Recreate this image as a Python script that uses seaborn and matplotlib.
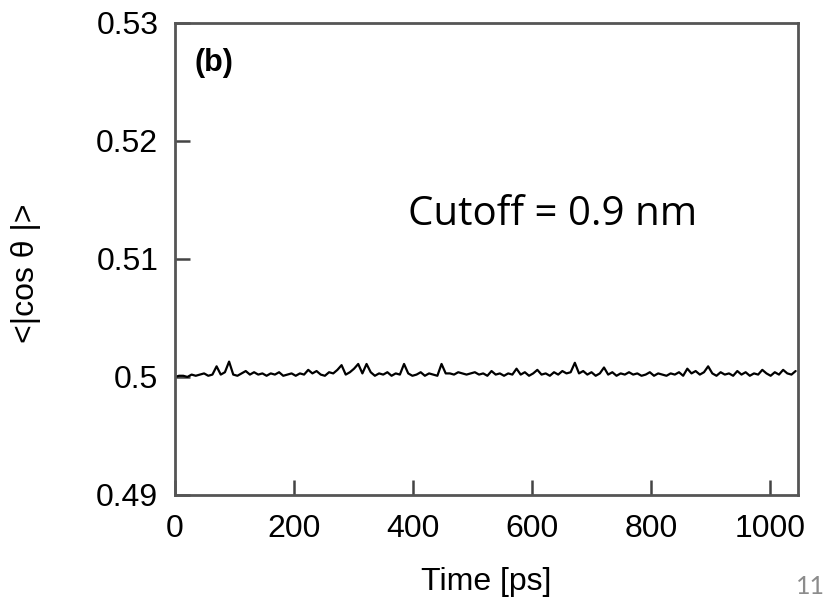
import numpy as np
import pandas as pd
import matplotlib
matplotlib.use("Agg")
import matplotlib.pyplot as plt
import seaborn as sns

# <|cos theta|>, one sample every 7 ps
cos_theta = [
    0.5000, 0.5001, 0.5001, 0.5000, 0.5002, 0.5001, 0.5002, 0.5003, 0.5001, 0.5002,
    0.5009, 0.5002, 0.5004, 0.5013, 0.5002, 0.5001, 0.5003, 0.5005, 0.5002, 0.5004,
    0.5002, 0.5003, 0.5001, 0.5003, 0.5002, 0.5004, 0.5001, 0.5002, 0.5003, 0.5001,
    0.5003, 0.5002, 0.5006, 0.5003, 0.5005, 0.5002, 0.5001, 0.5004, 0.5003, 0.5006,
    0.5010, 0.5002, 0.5004, 0.5007, 0.5011, 0.5003, 0.5011, 0.5004, 0.5001, 0.5003,
    0.5002, 0.5004, 0.5001, 0.5003, 0.5002, 0.5011, 0.5003, 0.5001, 0.5002, 0.5004,
    0.5001, 0.5003, 0.5002, 0.5001, 0.5011, 0.5003, 0.5003, 0.5002, 0.5004, 0.5003,
    0.5002, 0.5003, 0.5004, 0.5002, 0.5003, 0.5001, 0.5005, 0.5002, 0.5003, 0.5001,
    0.5003, 0.5002, 0.5007, 0.5002, 0.5004, 0.5001, 0.5003, 0.5006, 0.5002, 0.5003,
    0.5001, 0.5004, 0.5002, 0.5005, 0.5003, 0.5004, 0.5012, 0.5003, 0.5005, 0.5002,
    0.5004, 0.5001, 0.5003, 0.5008, 0.5002, 0.5004, 0.5001, 0.5003, 0.5002, 0.5004,
    0.5002, 0.5003, 0.5001, 0.5002, 0.5004, 0.5001, 0.5003, 0.5002, 0.5001, 0.5003,
    0.5002, 0.5004, 0.5001, 0.5007, 0.5003, 0.5005, 0.5002, 0.5004, 0.5009, 0.5003,
    0.5001, 0.5004, 0.5002, 0.5003, 0.5001, 0.5005, 0.5002, 0.5004, 0.5001, 0.5003,
    0.5002, 0.5006, 0.5003, 0.5001, 0.5004, 0.5002, 0.5006, 0.5003, 0.5002, 0.5005,
]
time_ps = np.arange(len(cos_theta)) * 7.0

x_ticks = [0, 200, 400, 600, 800, 1000]
y_ticks = [0.49, 0.50, 0.51, 0.52, 0.53]
y_tick_labels = ["0.49", "0.5", "0.51", "0.52", "0.53"]

df = pd.DataFrame({"time": time_ps, "cos": cos_theta})

sns.set_style("ticks")
plt.rcParams["font.family"] = ["Liberation Sans", "DejaVu Sans"]
plt.rcParams["text.color"] = "black"
plt.rcParams["axes.labelcolor"] = "black"

fig = plt.figure(figsize=(8.33, 6), dpi=100)
ax = fig.add_axes([0.210, 0.175, 0.748, 0.787])

sns.lineplot(data=df, x="time", y="cos", ax=ax, color="black", linewidth=1.6)

ax.set_xlim(0, 1047)
ax.set_ylim(0.49, 0.53)
ax.set_xticks(x_ticks)
ax.set_yticks(y_ticks)
ax.set_yticklabels(y_tick_labels)
ax.tick_params(direction="in", length=11, width=1.8, color="#444444",
               labelsize=23, labelcolor="black")
ax.tick_params(axis="x", pad=14)
ax.tick_params(axis="y", pad=12)
for sp in ax.spines.values():
    sp.set_color("#555555")
    sp.set_linewidth(2)

ax.set_xlabel("Time [ps]", fontsize=23, labelpad=16)
ax.set_ylabel("<|cos θ |>", fontsize=23)
ax.yaxis.set_label_coords(-0.215, 0.47)

ax.text(0.031, 0.915, "(b)", transform=ax.transAxes, fontsize=22,
        fontweight="bold", ha="left", va="center")
fig.text(0.49, 0.642, "Cutoff = 0.9 nm", fontsize=29, family="Open Sans",
         ha="left", va="center")
# slide number in the corner
fig.text(0.99, 0.004, "11", fontsize=18, family="Lato", color="#8c8c8c",
         ha="right", va="bottom")

fig.savefig("out.png", dpi=100)
